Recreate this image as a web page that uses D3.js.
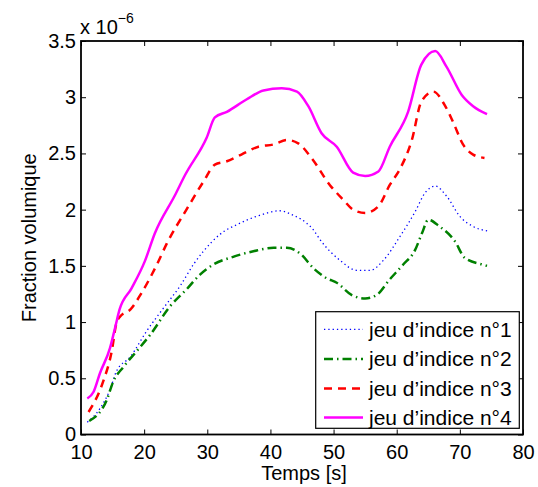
<!DOCTYPE html>
<html>
<head>
<meta charset="utf-8">
<script src="https://cdn.jsdelivr.net/npm/d3@7"></script>
<style>
  html, body { margin: 0; padding: 0; background: #fff; }
  svg { display: block; font-family: "Liberation Sans", Arial, Helvetica, sans-serif; }
</style>
</head>
<body>
<svg id="chart" width="538" height="487"></svg>
<script>
// ---- data (values in units of 1e-6) ----
const seriesNames = ["jeu d\u2019indice n\u00b01", "jeu d\u2019indice n\u00b02", "jeu d\u2019indice n\u00b03", "jeu d\u2019indice n\u00b04"];
const seriesColors = ["#0000ff", "#008000", "#ff0000", "#ff00ff"];

const t1 = [11.0,13.0,14.6,15.6,17.8,20.4,23.0,25.8,27.9,29.4,32.0,35.2,38.3,41.5,43.6,44.7,46.8,47.9,51.0,53.7,55.8,57.9,60.5,62.9,64.5,66.1,67.9,70.0,72.1,74.5];
const v1 = [0.11,0.23,0.40,0.56,0.69,0.92,1.12,1.33,1.52,1.63,1.78,1.88,1.95,1.99,1.95,1.92,1.82,1.73,1.55,1.46,1.46,1.55,1.76,1.98,2.15,2.21,2.12,1.94,1.85,1.81];

const t2 = [11.3,14.1,15.1,16.7,18.8,21.0,24.1,26.7,28.8,30.9,34.1,37.3,40.5,42.6,44.7,46.8,48.9,50.5,52.9,55.0,56.8,58.9,61.0,62.9,64.0,65.0,66.8,69.2,70.8,73.7,74.3];
const v2 = [0.12,0.31,0.47,0.60,0.74,0.89,1.14,1.29,1.42,1.51,1.58,1.63,1.66,1.66,1.61,1.48,1.39,1.35,1.24,1.21,1.24,1.38,1.51,1.64,1.79,1.91,1.85,1.72,1.57,1.51,1.50];

const t3 = [11.2,13.5,14.9,15.6,16.2,17.8,19.6,22.0,23.6,26.7,29.4,31.2,33.1,35.4,38.1,40.5,42.6,44.4,46.5,49.4,51.5,53.1,55.0,57.1,58.9,60.5,62.4,63.9,65.8,67.6,69.0,70.5,72.1,73.9];
const v3 = [0.20,0.47,0.75,0.99,1.05,1.11,1.26,1.51,1.70,2.00,2.25,2.40,2.43,2.49,2.56,2.58,2.62,2.59,2.46,2.22,2.09,2.00,1.97,2.03,2.22,2.36,2.62,2.96,3.05,2.93,2.77,2.58,2.49,2.46];

const t4 = [11.0,12.0,13.0,14.6,15.4,16.1,18.0,20.1,21.7,24.9,26.5,29.9,31.2,33.1,36.2,38.9,41.8,44.2,46.0,48.1,50.5,53.1,55.0,57.1,58.9,61.8,63.9,66.1,67.9,70.3,72.1,74.3];
const v4 = [0.32,0.38,0.545,0.77,0.95,1.11,1.30,1.54,1.79,2.13,2.31,2.64,2.82,2.87,2.98,3.06,3.08,3.05,2.92,2.68,2.56,2.33,2.30,2.34,2.56,2.87,3.29,3.41,3.27,3.02,2.92,2.85];

const xTicks = [10, 20, 30, 40, 50, 60, 70, 80];
const yTicks = [0, 0.5, 1, 1.5, 2, 2.5, 3, 3.5];
const yTickLabels = ["0", "0.5", "1", "1.5", "2", "2.5", "3", "3.5"];
const xLabel = "Temps [s]";
const yLabel = "Fraction volumique";
const exponentBase = "x 10";
const exponentPow = "\u22126";

const timeArrays = [t1, t2, t3, t4];
const valueArrays = [v1, v2, v3, v4];

// ---- layout ----
const svg = d3.select("#chart");
const L = 81, R = 523, T = 41, B = 434.5;
const fs = 20;

const x = d3.scaleLinear().domain([10, 80]).range([L, R]);
const y = d3.scaleLinear().domain([0, 3.5]).range([B, T]);

const styles = [
  { w: 1.3, dash: "1.3,3" },
  { w: 2.5, dash: "9,4,1.5,4" },
  { w: 2.5, dash: "8,6" },
  { w: 2.5, dash: null }
];

// lines
const line = d3.line().x(d => x(d[0])).y(d => y(d[1])).curve(d3.curveMonotoneX);
svg.append("clipPath").attr("id", "clip").append("rect")
  .attr("x", L).attr("y", T).attr("width", R - L).attr("height", B - T);

const g = svg.append("g").attr("clip-path", "url(#clip)");
timeArrays.forEach((ts, i) => {
  const pts = ts.map((t, k) => [t, valueArrays[i][k]]);
  g.append("path")
    .attr("d", line(pts))
    .attr("fill", "none")
    .attr("stroke", seriesColors[i])
    .attr("stroke-width", styles[i].w)
    .attr("stroke-dasharray", styles[i].dash)
    .attr("stroke-linejoin", "round");
});

// axes (inward ticks, box)
const tickLen = 5;
const axB = d3.axisBottom(x).tickValues(xTicks).tickSize(-tickLen).tickPadding(10).tickFormat(d3.format("d"));
const axT = d3.axisTop(x).tickValues(xTicks).tickSize(-tickLen).tickFormat("");
const axL = d3.axisLeft(y).tickValues(yTicks).tickSize(-tickLen).tickPadding(5).tickFormat((d, i) => yTickLabels[i]);
const axR = d3.axisRight(y).tickValues(yTicks).tickSize(-tickLen).tickFormat("");

function styleAxis(sel) {
  sel.select(".domain").remove();
  sel.selectAll(".tick line").attr("stroke", "#000").attr("stroke-width", 1);
  sel.selectAll(".tick text").attr("fill", "#000").style("font-size", fs + "px")
    .style("font-family", '"Liberation Sans", Arial, sans-serif');
}
svg.append("g").attr("transform", `translate(0,${B})`).call(axB).call(styleAxis);
svg.append("g").attr("transform", `translate(0,${T})`).call(axT).call(styleAxis);
svg.append("g").attr("transform", `translate(${L},0)`).call(axL).call(styleAxis);
svg.append("g").attr("transform", `translate(${R},0)`).call(axR).call(styleAxis);

svg.append("rect").attr("x", L).attr("y", T).attr("width", R - L).attr("height", B - T)
  .attr("fill", "none").attr("stroke", "#000").attr("stroke-width", 1.8);

// axis labels
svg.append("text").attr("x", (L + R) / 2 + 2).attr("y", 480).attr("text-anchor", "middle")
  .style("font-size", fs + "px").text(xLabel);
svg.append("text").attr("transform", `translate(36,${(T + B) / 2}) rotate(-90)`)
  .attr("text-anchor", "middle").style("font-size", fs + "px").text(yLabel);

// exponent
const ex = svg.append("text").attr("x", 80).attr("y", 34).style("font-size", fs + "px");
ex.append("tspan").text(exponentBase);
ex.append("tspan").attr("dy", -11).style("font-size", "14px").text(exponentPow);

// legend
const lg = svg.append("g");
const lx = 315.7, ly = 311.7, lw = 203.6, lh = 116.6;
lg.append("rect").attr("x", lx).attr("y", ly).attr("width", lw).attr("height", lh)
  .attr("fill", "#fff").attr("stroke", "#000").attr("stroke-width", 1.2);
const rowY = [329.3, 359, 388.5, 417.5];
seriesNames.forEach((name, i) => {
  lg.append("line").attr("x1", 324).attr("x2", 363).attr("y1", rowY[i]).attr("y2", rowY[i])
    .attr("stroke", seriesColors[i]).attr("stroke-width", styles[i].w)
    .attr("stroke-dasharray", styles[i].dash);
  lg.append("text").attr("x", 369).attr("y", rowY[i]).attr("dy", "0.35em")
    .style("font-size", "21px").text(name);
});
</script>
</body>
</html>
